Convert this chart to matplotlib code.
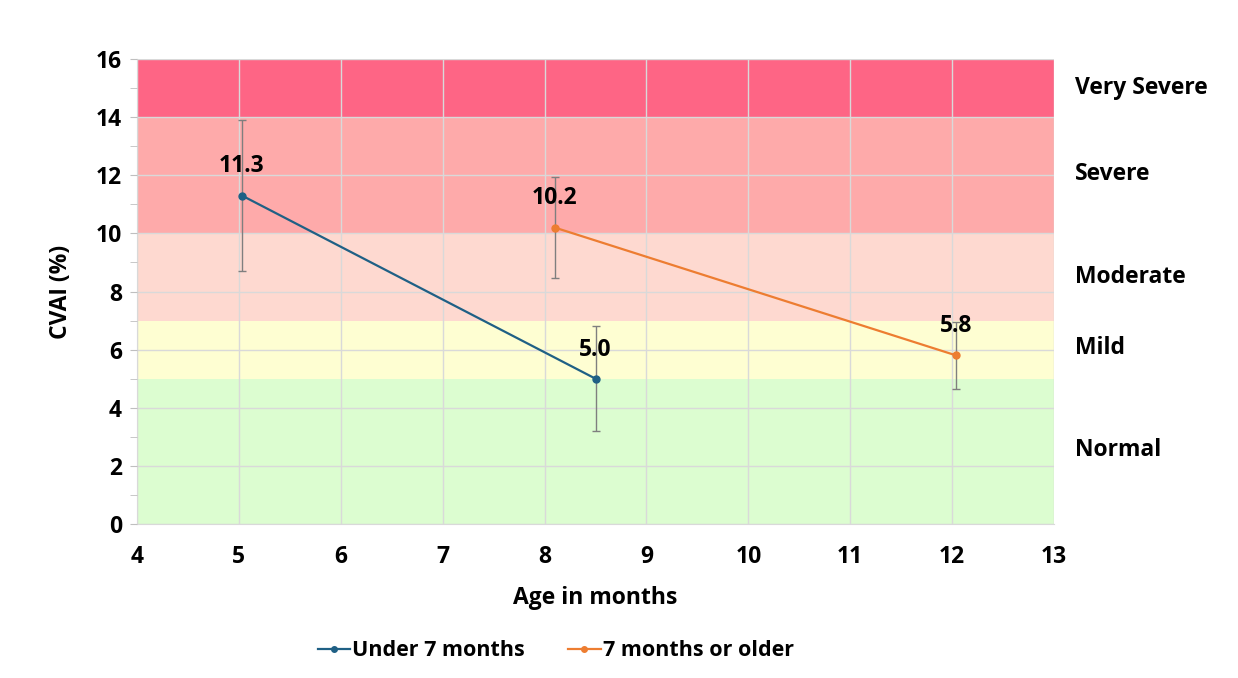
import matplotlib.pyplot as plt
from matplotlib.ticker import MultipleLocator
from matplotlib.lines import Line2D

plt.rcParams['font.family'] = ['Open Sans', 'DejaVu Sans']
plt.rcParams['font.weight'] = 'bold'

# severity bands (CVAI %)
band_names = ["Normal", "Mild", "Moderate", "Severe", "Very Severe"]
band_low = [0, 5, 7, 10, 14]
band_high = [5, 7, 10, 14, 16]
band_colors = ["#dcfdd0", "#fefed2", "#fed9d0", "#feaaaa", "#fe6585"]
band_label_y = [2.55, 6.05, 8.5, 12.05, 15.0]

# series
under_age = [5.03, 8.5]
under_cvai = [11.3, 5.0]
under_err = [2.6, 1.8]

older_age = [8.1, 12.04]
older_cvai = [10.2, 5.8]
older_err = [1.75, 1.15]

blue = '#1f6085'
orange = '#ed7d31'
fs = 16.5

fig = plt.figure(figsize=(12.38, 6.78), dpi=100)
ax = fig.add_axes([0.1107, 0.2271, 0.7407, 0.6859])

for lo, hi, c in zip(band_low, band_high, band_colors):
    ax.axhspan(lo, hi, color=c, lw=0, zorder=0)

ax.set_xlim(4, 13)
ax.set_ylim(0, 16)
ax.xaxis.set_major_locator(MultipleLocator(1))
ax.yaxis.set_major_locator(MultipleLocator(2))
ax.yaxis.set_minor_locator(MultipleLocator(1))
ax.grid(True, which='major', color='#d9d9d9', lw=1, zorder=1)
ax.set_axisbelow(False)

for s in ['top', 'right']:
    ax.spines[s].set_visible(False)
for s in ['left', 'bottom']:
    ax.spines[s].set_color('#d9d9d9')
ax.tick_params(axis='x', length=0, pad=15, labelsize=fs)
ax.tick_params(axis='y', which='both', length=5, color='#bfbfbf', labelsize=fs, pad=6)

ax.errorbar(under_age, under_cvai, yerr=under_err, color=blue, marker='o', ms=5,
            lw=1.6, ecolor='#7f7f7f', elinewidth=1, capsize=3, zorder=3)
ax.errorbar(older_age, older_cvai, yerr=older_err, color=orange, marker='o', ms=5,
            lw=1.6, ecolor='#7f7f7f', elinewidth=1, capsize=3, zorder=3)

for xs, ys in [(under_age, under_cvai), (older_age, older_cvai)]:
    for x, y in zip(xs, ys):
        ax.annotate(f"{y:.1f}", (x, y), xytext=(0, 21), textcoords='offset points',
                    ha='center', va='center', fontsize=fs, fontweight='bold', zorder=4)

for name, y in zip(band_names, band_label_y):
    ax.text(13.21, y, name, ha='left', va='center', fontsize=fs, fontweight='bold',
            clip_on=False)

ax.set_xlabel("Age in months", fontsize=fs, fontweight='bold', labelpad=12)
ax.set_ylabel("CVAI (%)", fontsize=fs, fontweight='bold', labelpad=16)

handles = [Line2D([], [], color=blue, marker='o', ms=4, lw=1.6),
           Line2D([], [], color=orange, marker='o', ms=4, lw=1.6)]
labels = ['Under 7 months', '7 months or older']
fig.legend(handles, labels, loc='center', bbox_to_anchor=(0.449, 0.04), ncol=2,
           frameon=False, fontsize=15.5, handlelength=1.5, handletextpad=0.1,
           columnspacing=2.0)

fig.savefig('out.png', dpi=100)
